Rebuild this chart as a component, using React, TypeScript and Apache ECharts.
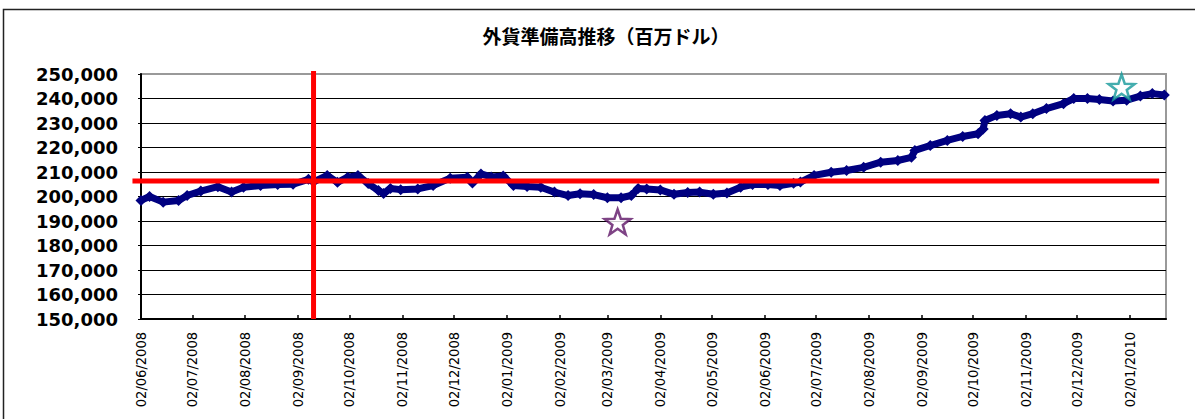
import React, { useEffect, useRef } from "react";
import * as echarts from "echarts";

const TITLE = "外貨準備高推移（百万ドル）";

// monthly tick labels (dd/mm/yyyy)
const tickDates = [
  "2008-06-02", "2008-07-02", "2008-08-02", "2008-09-02", "2008-10-02", "2008-11-02",
  "2008-12-02", "2009-01-02", "2009-02-02", "2009-03-02", "2009-04-02", "2009-05-02",
  "2009-06-02", "2009-07-02", "2009-08-02", "2009-09-02", "2009-10-02", "2009-11-02",
  "2009-12-02", "2010-01-02",
];

// foreign reserves (million USD)
const reserveDates = [
  "2008-06-02", "2008-06-07", "2008-06-15", "2008-06-24", "2008-06-29", "2008-07-07",
  "2008-07-17", "2008-07-25", "2008-08-01", "2008-08-11", "2008-08-21", "2008-08-30",
  "2008-09-08", "2008-09-11", "2008-09-19", "2008-09-25", "2008-10-01", "2008-10-07",
  "2008-10-13", "2008-10-19", "2008-10-22", "2008-10-26", "2008-11-01", "2008-11-11",
  "2008-11-20", "2008-11-30", "2008-12-10", "2008-12-13", "2008-12-18", "2008-12-24",
  "2008-12-31", "2009-01-06", "2009-01-14", "2009-01-22", "2009-01-30", "2009-02-07",
  "2009-02-14", "2009-02-22", "2009-03-02", "2009-03-10", "2009-03-16", "2009-03-20",
  "2009-03-25", "2009-04-02", "2009-04-10", "2009-04-18", "2009-04-25", "2009-05-03",
  "2009-05-11", "2009-05-19", "2009-05-26", "2009-06-04", "2009-06-11", "2009-06-19",
  "2009-06-23", "2009-07-01", "2009-07-11", "2009-07-20", "2009-07-30", "2009-08-09",
  "2009-08-19", "2009-08-27", "2009-08-29", "2009-09-07", "2009-09-17", "2009-09-26",
  "2009-10-05", "2009-10-08", "2009-10-09", "2009-10-16", "2009-10-24", "2009-10-30",
  "2009-11-06", "2009-11-14", "2009-11-24", "2009-11-30", "2009-12-08", "2009-12-15",
  "2009-12-23", "2009-12-31", "2010-01-08", "2010-01-15", "2010-01-22",
];
const reserveValues = [
  198400, 200000, 197700, 198400, 200400, 202200,
  204000, 201800, 203800, 204500, 204900, 205000,
  207000, 206000, 208600, 205800, 207900, 208600,
  205300, 202400, 201200, 203300, 202800, 203100,
  204500, 207500, 207900, 205500, 209200, 208000,
  208400, 204500, 204100, 203800, 201800, 200400,
  201100, 200800, 199500, 199500, 200400, 203300,
  203100, 202700, 200900, 201600, 201800, 200900,
  201400, 203800, 204900, 204900, 204500, 205400,
  205900, 208600, 209900, 210600, 211900, 214000,
  214700, 216000, 218800, 220800, 222900, 224500,
  225600, 227600, 231000, 233100, 233800, 232400,
  233800, 235900, 237900, 240000, 240000, 239600,
  239000, 239300, 241000, 242000, 241400,
];

const refLevel = 206300;
const refLineStart = "2008-05-28";
const refLineEnd = "2010-01-19";
const eventDate = "2008-09-11";
const eventTop = 251200;
const eventBottom = 150000;
const purpleStar = { date: "2009-03-08", value: 189600 };
const tealStar = { date: "2009-12-28", value: 244700 };

const STAR =
  "path://M50 0 L61.76 33.82 L97.55 34.55 L69.02 56.18 L79.39 90.45 L50 70 L20.61 90.45 L30.98 56.18 L2.45 34.55 L38.24 33.82 Z";

const ts = (s: string) => {
  const [y, m, d] = s.split("-").map(Number);
  return Date.UTC(y, m - 1, d);
};
const pad = (n: number) => (n < 10 ? "0" + n : "" + n);

export default function App() {
  const ref = useRef<HTMLDivElement>(null);
  useEffect(() => {
    if (!ref.current) return;
    const chart = echarts.init(ref.current, null, { renderer: "svg" });
    const tickTs = tickDates.map(ts);
    const splitColors = ["#000", "#000", "#000", "#000", "#000", "#000", "#000", "#000", "#000", "#000", "#999"];
    const frame = {
      type: "rect",
      id: "frame",
      shape: { x: 3.5, y: 9.5, width: 1210, height: 420 },
      style: { fill: "none", stroke: "#222", lineWidth: 1.5 },
      silent: true,
      z: 100,
    };
    chart.setOption({
      animation: false,
      backgroundColor: "#fff",
      title: {
        text: TITLE,
        left: 601,
        top: 21,
        textAlign: "center",
        textStyle: { fontFamily: "'Noto Sans CJK JP'", fontWeight: "bold", fontSize: 19, color: "#000" },
      },
      graphic: [frame],
      grid: {
        left: 141,
        right: 29,
        top: 74,
        bottom: 100,
        show: true,
        borderColor: "#999",
        borderWidth: 2,
        backgroundColor: "#fff",
      },
      xAxis: {
        type: "value",
        min: ts("2008-06-02"),
        max: ts("2010-01-23"),
        axisLine: { show: true, lineStyle: { color: "#000", width: 2 } },
        axisTick: {
          show: true,
          inside: true,
          length: 4,
          customValues: tickTs,
          lineStyle: { color: "#000", width: 1.5 },
        },
        axisLabel: {
          customValues: tickTs,
          rotate: 90,
          margin: 13,
          color: "#000",
          fontSize: 14.5,
          fontFamily: "'DejaVu Sans Condensed', 'Liberation Sans Narrow', sans-serif",
          formatter: (v: number) => {
            const d = new Date(v);
            return pad(d.getUTCDate()) + "/" + pad(d.getUTCMonth() + 1) + "/" + d.getUTCFullYear();
          },
        },
        splitLine: { show: false },
      },
      yAxis: {
        type: "value",
        min: 150000,
        max: 250000,
        interval: 10000,
        axisLine: { show: true, lineStyle: { color: "#000", width: 2 } },
        axisTick: { show: true, length: 3, lineStyle: { color: "#000" } },
        axisLabel: {
          margin: 23,
          color: "#000",
          fontSize: 18,
          fontWeight: "bold",
          fontFamily: "'DejaVu Sans', sans-serif",
          formatter: (v: number) => v.toLocaleString("en-US"),
        },
        splitLine: { show: true, lineStyle: { color: splitColors, width: 1.2 } },
      },
      series: [
        {
          type: "line",
          data: reserveDates.map((d, i) => [ts(d), reserveValues[i]]),
          color: "#000080",
          lineStyle: { color: "#000080", width: 7 },
          symbol: "diamond",
          symbolSize: 11,
          showSymbol: true,
          showAllSymbol: true,
          itemStyle: { color: "#000080" },
          clip: false,
          silent: true,
          z: 3,
        },
        {
          type: "scatter",
          data: [[ts(purpleStar.date), purpleStar.value]],
          symbol: STAR,
          symbolSize: [26, 25],
          itemStyle: { color: "#fff", borderColor: "#5E1466", borderWidth: 2.5 },
          silent: true,
          z: 5,
        },
        {
          type: "scatter",
          data: [[ts(tealStar.date), tealStar.value]],
          symbol: STAR,
          symbolSize: [26, 25],
          itemStyle: { color: "#fff", borderColor: "#14999A", borderWidth: 2.5 },
          silent: true,
          z: 5,
        },
      ],
    });
    // red reference lines placed through the chart's own scales
    const toPx = (d: string, v: number) =>
      chart.convertToPixel({ gridIndex: 0 }, [ts(d), v]) as number[];
    const h1 = toPx(refLineStart, refLevel);
    const h2 = toPx(refLineEnd, refLevel);
    const v1 = toPx(eventDate, eventTop);
    const v2 = toPx(eventDate, eventBottom);
    chart.setOption({
      graphic: [
        frame,
        {
          type: "line",
          id: "hline",
          shape: { x1: h1[0], y1: h1[1], x2: h2[0], y2: h2[1] },
          style: { stroke: "#FF0000", lineWidth: 5 },
          silent: true,
          z: 10,
        },
        {
          type: "line",
          id: "vline",
          shape: { x1: v1[0], y1: v1[1], x2: v2[0], y2: v2[1] },
          style: { stroke: "#FF0000", lineWidth: 5 },
          silent: true,
          z: 10,
        },
      ],
    });
    return () => chart.dispose();
  }, []);
  return (
    <div
      ref={ref}
      style={{ position: "absolute", left: 0, top: 0, width: 1195, height: 419 }}
    />
  );
}
